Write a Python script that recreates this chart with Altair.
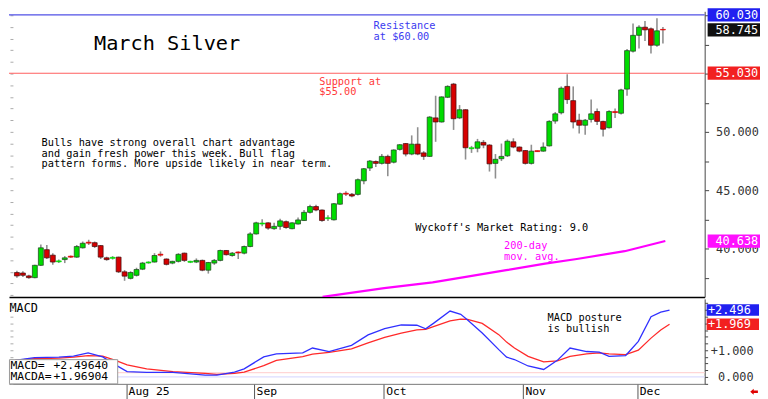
import altair as alt
import pandas as pd

# ---------------- data ----------------
opens = [37.94, 37.90, 37.65, 37.50, 38.56, 39.90, 39.43, 38.86, 39.05, 39.34,
         39.26, 40.06, 40.54, 40.50, 40.25, 39.20, 39.16, 39.26, 38.00, 37.44,
         37.70, 38.23, 38.76, 38.84, 39.51, 39.10, 38.75, 38.90, 39.60, 38.82,
         38.84, 38.98, 38.14, 38.75, 38.98, 39.83, 39.40, 39.70, 39.60, 40.17,
         41.25, 42.10, 42.20, 41.70, 41.90, 42.30, 41.70, 42.10, 42.40, 43.10,
         43.60, 43.30, 42.56, 42.46, 43.80, 44.74, 44.65, 44.64, 45.80, 46.90,
         47.46, 47.30, 47.90, 47.40, 48.50, 49.00, 48.10, 48.95, 48.20, 47.90,
         51.20, 50.85, 52.97, 54.10, 51.20, 51.90, 48.56, 48.60, 49.10, 48.87,
         47.30, 47.70, 47.95, 49.15, 48.70, 48.40, 47.30, 48.39, 48.35, 48.80,
         50.93, 51.64, 53.90, 52.68, 51.00, 50.57, 51.07, 51.75, 50.90, 50.36,
         51.74, 51.60, 53.67, 56.92, 58.28, 58.98, 58.84, 57.43, 58.79]
highs = [38.10, 38.05, 37.75, 38.60, 40.34, 40.30, 39.60, 39.05, 39.35, 39.40,
         40.30, 40.60, 40.75, 40.60, 40.30, 39.30, 39.35, 39.30, 38.15, 38.05,
         38.35, 38.85, 38.90, 39.60, 39.75, 39.15, 38.95, 39.60, 39.65, 38.95,
         39.15, 39.05, 38.85, 39.10, 39.90, 39.85, 39.70, 39.75, 40.25, 41.40,
         42.30, 42.50, 42.25, 42.20, 42.55, 42.40, 42.25, 42.65, 43.30, 43.75,
         43.75, 43.35, 42.85, 43.90, 44.80, 44.90, 44.75, 46.00, 46.90, 47.60,
         47.55, 48.10, 48.05, 48.50, 48.95, 49.05, 49.70, 50.40, 48.35, 51.35,
         53.10, 53.05, 54.00, 54.20, 52.30, 51.95, 48.80, 49.40, 49.30, 48.95,
         48.10, 49.00, 49.35, 49.45, 48.75, 48.45, 48.90, 48.40, 49.10, 51.00,
         51.70, 53.90, 54.94, 53.90, 51.55, 51.10, 52.77, 52.00, 50.95, 51.85,
         52.00, 53.70, 57.10, 59.30, 59.15, 59.50, 58.95, 59.75, 59.00]
lows = [37.50, 37.55, 37.40, 37.45, 38.50, 39.10, 38.60, 38.75, 38.75, 39.20,
        39.20, 40.00, 40.30, 40.05, 39.10, 38.95, 39.05, 37.90, 37.23, 37.35,
        37.60, 38.15, 38.70, 38.80, 39.30, 38.55, 38.65, 38.80, 38.85, 38.75,
        38.75, 38.05, 37.85, 38.60, 38.90, 39.40, 39.30, 39.10, 39.50, 40.10,
        41.20, 41.90, 41.60, 41.60, 41.60, 41.70, 41.65, 42.05, 42.35, 43.00,
        43.20, 42.30, 42.35, 42.40, 43.75, 44.50, 44.40, 44.55, 45.50, 46.65,
        47.00, 47.20, 46.20, 47.30, 48.40, 47.90, 48.00, 48.00, 47.60, 47.85,
        49.15, 50.80, 52.90, 50.17, 51.10, 47.63, 48.20, 48.25, 48.60, 46.60,
        46.00, 47.50, 47.85, 48.60, 48.25, 47.20, 47.20, 48.30, 48.30, 48.75,
        50.70, 51.50, 52.40, 50.30, 49.86, 49.75, 50.80, 50.60, 49.60, 50.30,
        51.20, 51.50, 53.10, 56.80, 57.15, 57.80, 56.72, 57.30, 57.57]
closes = [37.65, 37.70, 37.50, 38.56, 40.06, 39.20, 38.84, 38.94, 39.20, 39.26,
          40.17, 40.45, 40.46, 40.17, 39.26, 39.05, 39.24, 38.00, 37.63, 37.94,
          38.20, 38.75, 38.84, 39.40, 39.43, 38.64, 38.90, 39.50, 38.98, 38.90,
          38.98, 38.14, 38.80, 38.98, 39.83, 39.47, 39.60, 39.62, 40.17, 41.25,
          42.20, 42.18, 41.75, 41.90, 42.37, 41.80, 42.20, 42.45, 43.10, 43.60,
          43.30, 42.40, 42.64, 43.84, 44.70, 44.66, 44.50, 45.90, 46.84, 47.50,
          47.30, 47.90, 47.30, 48.45, 48.90, 48.10, 48.95, 48.10, 47.90, 51.27,
          50.85, 53.00, 53.90, 51.13, 51.90, 48.64, 48.64, 49.15, 48.87, 47.26,
          47.65, 47.90, 49.20, 48.70, 48.35, 47.30, 48.35, 48.31, 48.70, 50.90,
          51.55, 53.75, 52.77, 50.85, 50.57, 51.00, 51.55, 50.90, 50.23, 51.75,
          51.66, 53.60, 56.97, 58.28, 58.98, 58.75, 57.43, 58.67, 58.745]

month_labels = ["Aug 25", "Sep", "Oct", "Nov", "Dec"]
month_ticks = [18.8, 39.9, 61.25, 84.2, 103.05]

ma_idx = [51.1, 61.4, 69.5, 74.8, 81.8, 88.3, 93.6, 101.6, 108.4]
ma_vals = [35.85, 36.6, 37.1, 37.55, 38.14, 38.7, 39.1, 39.77, 40.638]

macd_idx = [0.48, 3.70, 7.72, 10.13, 12.54, 14.95, 17.04, 18.97, 22.19, 26.53,
            31.83, 33.76, 36.66, 38.26, 41.48, 43.57, 47.91, 49.52, 52.25, 55.95,
            58.68, 61.41, 64.15, 66.72, 68.17, 69.45, 72.19, 73.95, 75.08, 77.49,
            80.22, 81.51, 82.80, 85.05, 87.62, 89.87, 91.96, 94.69, 96.78, 98.39,
            101.13, 103.22, 105.31, 106.91, 108.36]
macd_vals = [0.62, 0.72, 0.74, 0.78, 0.90, 0.75, 0.45, 0.20, 0.17, 0.17,
             0.07, 0.07, 0.18, 0.30, 0.75, 0.86, 0.90, 1.08, 0.95, 1.18,
             1.57, 1.80, 1.94, 1.93, 1.80, 2.00, 2.46, 2.34, 2.13, 1.64,
             1.02, 0.74, 0.65, 0.41, 0.28, 0.62, 1.08, 0.95, 0.93, 0.77,
             0.80, 1.33, 2.25, 2.42, 2.496]
signal_vals = [0.62, 0.68, 0.70, 0.74, 0.80, 0.78, 0.62, 0.45, 0.30, 0.20,
               0.13, 0.10, 0.13, 0.18, 0.42, 0.62, 0.76, 0.85, 0.92, 1.05,
               1.27, 1.48, 1.64, 1.76, 1.78, 1.88, 2.09, 2.16, 2.15, 2.00,
               1.58, 1.30, 1.08, 0.77, 0.56, 0.60, 0.77, 0.86, 0.90, 0.86,
               0.83, 1.00, 1.45, 1.75, 1.969]

level_names = ["Resistance", "Support"]
level_values = [60.03, 55.03]

price_tag_names = ["resistance", "last", "support", "ma200"]
price_tag_values = [60.030, 58.745, 55.030, 40.638]
macd_tag_names = ["MACD", "MACDA"]
macd_tag_values = [2.496, 1.969]
macd_ref_names = ["zero", "ref"]
macd_ref_values = [0.0, 0.16]
legend_labels = ["MACD=", "MACDA="]
legend_values = ["+2.49640", "+1.96904"]

# ---------------- layout / style ----------------
W, HP, HM = 704, 289, 86
MONO = "DejaVu Sans Mono"
xs = alt.Scale(domain=[-0.5, 114.15], nice=False, zero=False)
ps = alt.Scale(domain=[35.85, 60.34], nice=False, zero=False)
ms = alt.Scale(domain=[-0.258, 2.915], nice=False, zero=False)

cdf = pd.DataFrame({"i": list(range(len(opens))), "open": opens, "high": highs,
                    "low": lows, "close": closes})
cdf["kind"] = [("up" if c >= o else "down") + ("flat" if abs(c - o) < 0.12 else "")
               for o, c in zip(opens, closes)]

price_x_axis = alt.Axis(labels=False, ticks=False, domainColor="#000",
                        domainWidth=1.5, grid=False, title=None)


def PX():
    return alt.X("i:Q", scale=xs, axis=price_x_axis, title=None)


price_right_axis = alt.Axis(
    orient="right", values=[37.5 + 2.5 * k for k in range(10)],
    labelExpr="(datum.value % 5 == 0) ? format(datum.value, '.3f') : ''",
    tickSize=4, labelPadding=7, labelAlign="left", labelBaseline="middle",
    labelFont=MONO, labelFontSize=12, labelColor="#333", labelOverlap=False,
    domainColor="#444", tickColor="#444", grid=False, title=None)
price_left_axis = alt.Axis(
    orient="left", offset=-4, values=list(range(36, 61)), tickSize=3,
    labels=False, domain=False, tickColor="#aaa", grid=False, title=None)

levels = alt.Chart(pd.DataFrame({"name": level_names, "v": level_values})).mark_rule(
    strokeWidth=1.2).encode(
    y=alt.Y("v:Q", scale=ps, axis=price_left_axis),
    color=alt.Color("name:N", scale=alt.Scale(domain=level_names,
                                              range=["#5050e6", "#ff5f5f"]), legend=None))

ma = alt.Chart(pd.DataFrame({"i": ma_idx, "v": ma_vals})).mark_line(
    color="#ff00ff", strokeWidth=2.2, clip=True).encode(
    x=PX(), y=alt.Y("v:Q", scale=ps, axis=None))

wicks = alt.Chart(cdf).mark_rule(color="#8f8f8f", strokeWidth=1.6).encode(
    x=PX(), y=alt.Y("low:Q", scale=ps, axis=price_right_axis), y2="high:Q")

kinds = ["up", "down", "upflat", "downflat"]
bodies = alt.Chart(cdf).mark_bar(size=5, strokeWidth=0.7).encode(
    x=PX(), y=alt.Y("open:Q", scale=ps, axis=None), y2="close:Q",
    fill=alt.Fill("kind:N", scale=alt.Scale(domain=kinds,
                  range=["#00dc00", "#d60000", "#00dc00", "#e00000"]), legend=None),
    stroke=alt.Stroke("kind:N", scale=alt.Scale(domain=kinds,
                      range=["#1d3d1d", "#3d0c0c", "#00dc00", "#e00000"]), legend=None))


def note(text, x, y, color="#000", size=10.4, lh=10.6, align="left", baseline="top"):
    return alt.Chart(pd.DataFrame({"t": [text]})).mark_text(
        font=MONO, fontSize=size, color=color, align=align, baseline=baseline,
        lineBreak="\n", lineHeight=lh).encode(
        x=alt.value(x), y=alt.value(y), text="t:N")


title = note("March Silver", 160, 33.5, size=20.5, align="center", baseline="middle")
body_txt = note("Bulls have strong overall chart advantage\n"
                "and gain fresh power this week. Bull flag\n"
                "pattern forms. More upside likely in near term.", 33, 128.5, lh=10.6)
res_txt = note("Resistance\nat $60.00", 369, 10, color="#3c3cf0", lh=10.7)
sup_txt = note("Support at\n$55.00", 314, 66.5, color="#ff3a3a", lh=10.4)
wyck_txt = note("Wyckoff's Market Rating: 9.0", 411, 214)
ma_txt = note("200-day\nmov. avg.", 501, 232.5, color="#ff00ff", lh=11)

ptags = pd.DataFrame({"name": price_tag_names, "v": price_tag_values})
ptag_box = alt.Chart(ptags).mark_rect(yOffset=-6.7, y2Offset=6.7).encode(
    x=alt.value(707), x2=alt.value(760),
    y=alt.Y("v:Q", scale=ps, axis=None), y2="v:Q",
    fill=alt.Fill("name:N", scale=alt.Scale(domain=price_tag_names,
                  range=["#2020f0", "#101010", "#f22020", "#ff10ff"]), legend=None))
ptag_txt = alt.Chart(ptags).mark_text(font=MONO, fontSize=12, color="#fff",
                                      align="center", baseline="middle").encode(
    x=alt.value(736.5), y=alt.Y("v:Q", scale=ps, axis=None),
    text=alt.Text("v:Q", format=".3f"))

price = alt.layer(levels, ma, wicks, bodies, title, body_txt, res_txt, sup_txt,
                  wyck_txt, ma_txt, ptag_box, ptag_txt).resolve_axis(
    y="independent").resolve_scale(
    color="independent", fill="independent", stroke="independent").properties(
    width=W, height=HP)

# ---------------- MACD panel ----------------
xlab = ""
for t, l in zip(month_ticks, month_labels):
    xlab += f"abs(datum.value - {t}) < 0.5 ? '{l}' : "
xlab += "''"

macd_x_axis = alt.Axis(
    values=month_ticks, labelExpr=xlab, tickSize=15, labelPadding=-7,
    labelAlign="left", labelOffset=2, labelBaseline="middle", labelFont=MONO,
    labelFontSize=11.5, labelColor="#000", tickColor="#555", domainColor="#777",
    labelFlush=False, labelOverlap=False, grid=False, title=None)


def MX():
    return alt.X("i:Q", scale=xs, axis=macd_x_axis, title=None)


macd_right_axis = alt.Axis(
    orient="right", values=[-0.25 + 0.25 * k for k in range(13)],
    labelExpr="datum.value == 0 ? '0.000' : datum.value == 1 ? '+1.000' : "
              "datum.value == 2 ? '+2.000' : ''",
    tickSize=3, labelPadding=46, labelAlign="right", labelBaseline="middle",
    labelFont=MONO, labelFontSize=12, labelColor="#333", labelOverlap=False,
    domainColor="#444", tickColor="#444", grid=False, title=None)
macd_left_axis = alt.Axis(
    orient="left", offset=-4, values=[-0.25 + 0.25 * k for k in range(13)],
    tickSize=3, labels=False, domain=False, tickColor="#aaa", grid=False, title=None)

refs = alt.Chart(pd.DataFrame({"k": macd_ref_names, "v": macd_ref_values})).mark_rule(
    strokeWidth=1.2).encode(
    y=alt.Y("v:Q", scale=ms, axis=macd_left_axis),
    color=alt.Color("k:N", scale=alt.Scale(domain=macd_ref_names,
                    range=["#dcdcff", "#ffd6d6"]), legend=None))

mdf = pd.DataFrame({"i": macd_idx, "macd": macd_vals, "sig": signal_vals})
sig_line = alt.Chart(mdf).mark_line(color="#ff2a2a", strokeWidth=1.3).encode(
    x=MX(), y=alt.Y("sig:Q", scale=ms, axis=macd_right_axis))
macd_line = alt.Chart(mdf).mark_line(color="#3030ff", strokeWidth=1.3).encode(
    x=MX(), y=alt.Y("macd:Q", scale=ms, axis=None))

macd_lbl = note("MACD", 0.5, 9.5, size=12, baseline="middle")
posture = note("MACD posture\nis bullish", 545, 14.5, lh=10.7)

leg_box = alt.Chart(pd.DataFrame({"a": [0]})).mark_rect(
    fill="#fff", stroke="#999", strokeWidth=1).encode(
    x=alt.value(0.5), x2=alt.value(110), y=alt.value(61.5), y2=alt.value(86))
leg_l = note("\n".join(legend_labels), 1.5, 61.5, size=11.5, lh=12)
leg_v = note("\n".join(legend_values), 45, 61.5, size=11.5, lh=12)

mtags = pd.DataFrame({"name": macd_tag_names, "v": macd_tag_values})
mtag_box = alt.Chart(mtags).mark_rect(yOffset=-5.8, y2Offset=5.8).encode(
    x=alt.value(706), x2=alt.value(759), y=alt.Y("v:Q", scale=ms, axis=None), y2="v:Q",
    fill=alt.Fill("name:N", scale=alt.Scale(domain=macd_tag_names,
                  range=["#2020f0", "#f22020"]), legend=None))
mtag_txt = alt.Chart(mtags).mark_text(font=MONO, fontSize=12, color="#fff",
                                      align="center", baseline="middle").encode(
    x=alt.value(729), y=alt.Y("v:Q", scale=ms, axis=None),
    text=alt.Text("v:Q", format="+.3f"))

arrow = alt.Chart(pd.DataFrame({"a": [0]})).mark_point(
    shape="M -1 0 L -0.1 -0.8 L -0.1 -0.35 L 1 -0.35 L 1 0.35 L -0.1 0.35 L -0.1 0.8 Z",
    size=60, filled=True, color="#e00000", opacity=1).encode(
    x=alt.value(754), y=alt.value(94))

macd = alt.layer(refs, sig_line, macd_line, leg_box, leg_l, leg_v, macd_lbl, posture,
                 mtag_box, mtag_txt, arrow).resolve_axis(
    y="independent").resolve_scale(
    color="independent", fill="independent").properties(width=W, height=HM)

chart = alt.vconcat(price, macd, spacing=0).resolve_scale(
    color="independent", fill="independent", stroke="independent"
).properties(padding={"top": -3, "left": 0, "right": 0, "bottom": 0}
             ).configure_view(stroke=None)

chart.save("out.html", embed_options={"renderer": "svg", "actions": False})
